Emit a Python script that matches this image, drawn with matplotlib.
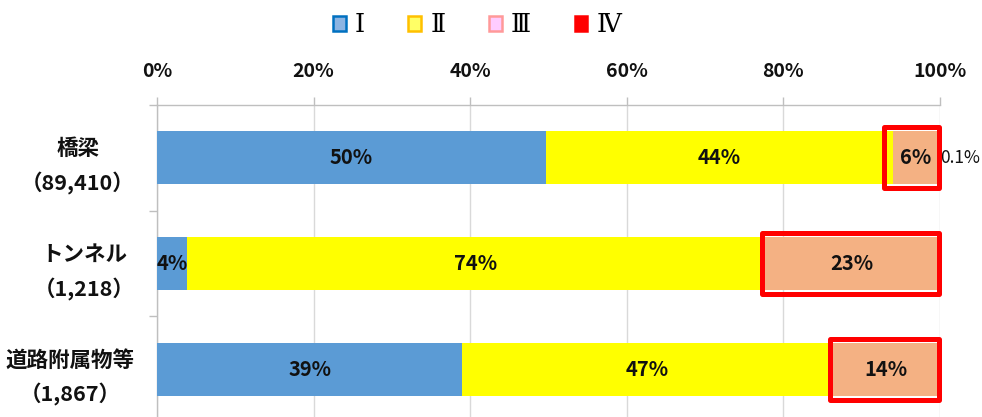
import matplotlib
matplotlib.use("Agg")
import matplotlib.pyplot as plt
from matplotlib.patches import Patch, Rectangle
import numpy as np

plt.rcParams['font.family'] = ['Noto Sans CJK JP', 'DejaVu Sans']

categories = ["橋梁\n（89,410）", "トンネル\n（1,218）", "道路附属物等\n（1,867）"]
series_names = ["Ⅰ", "Ⅱ", "Ⅲ", "Ⅳ"]
v1 = [49.7, 3.8, 39.0]
v2 = [44.3, 73.8, 47.2]
v3 = [5.9, 22.4, 13.8]
v4 = [0.1, 0.0, 0.0]
lab1 = ["50%", "4%", "39%"]
lab2 = ["44%", "74%", "47%"]
lab3 = ["6%", "23%", "14%"]
lab4 = ["0.1%", "", ""]
xticks = [0, 20, 40, 60, 80, 100]
xticklabels = ["0%", "20%", "40%", "60%", "80%", "100%"]

bar_colors = ["#5B9BD5", "#FFFF00", "#F4B183", "#FF0000"]
leg_face = ["#8DB4E2", "#FFFF66", "#FFCCFF", "#FF0000"]
leg_edge = ["#0070C0", "#FFC000", "#FF9999", "#FF0000"]

fig = plt.figure(figsize=(9.82, 4.17), dpi=100)
W, H = 982, 417
ax = fig.add_axes([157 / W, (417 - 422) / H, (940 - 157) / W, (422 - 105) / H])

y = np.arange(len(categories))
series = [v1, v2, v3, v4]
labels = [lab1, lab2, lab3, lab4]
left = np.zeros(len(categories))
starts = []
for vals, col, labs in zip(series, bar_colors, labels):
    vals = np.array(vals)
    starts.append(left.copy())
    ax.barh(y, vals, left=left, height=0.5, color=col, zorder=3)
    for i, (v, l) in enumerate(zip(vals, labs)):
        if not l:
            continue
        if v >= 2:
            ax.text(left[i] + v / 2, y[i], l, ha='center', va='center',
                    fontsize=14.5, fontweight='bold', color='#111111', zorder=5)
        else:
            ax.text(left[i] + v + 0.05, y[i], l, ha='left', va='center',
                    fontsize=12.5, color='#111111', zorder=5)
    left = left + vals

# red highlight boxes around III + IV
hl_pad = [1.2, 0.3, 0.3]
for i in range(len(categories)):
    x0 = starts[2][i] - hl_pad[i]
    r = Rectangle((x0, y[i] - 0.29), 100 - x0 - 0.1, 0.58, fill=False,
                  edgecolor='#FF0000', linewidth=3.6, joinstyle='round',
                  zorder=6, clip_on=False)
    ax.add_patch(r)

ax.set_xlim(0, 100)
ax.set_ylim(2.5, -0.5)
ax.xaxis.tick_top()
ax.set_xticks(xticks)
ax.set_xticklabels(xticklabels, fontsize=14, fontweight='bold', color='#111111')
ax.tick_params(axis='x', direction='out', length=6, width=1, color='#BFBFBF', pad=11)
ax.grid(axis='x', color='#D9D9D9', linewidth=1, zorder=0)

ax.set_yticks(y)
ax.set_yticklabels(categories, fontsize=15.5, fontweight='bold', color='#111111')
for t in ax.get_yticklabels():
    t.set_multialignment('center')
    t.set_linespacing(1.7)
ax.tick_params(axis='y', which='major', length=0, pad=16)
ax.set_yticks([-0.5, 0.5, 1.5, 2.5], minor=True)
ax.tick_params(axis='y', which='minor', length=6, width=1, color='#BFBFBF')

for s in ['right', 'bottom']:
    ax.spines[s].set_visible(False)
for s in ['top', 'left']:
    ax.spines[s].set_color('#BFBFBF')
    ax.spines[s].set_linewidth(1)

handles = [Patch(facecolor=f, edgecolor=e, linewidth=1.8, label=n)
           for f, e, n in zip(leg_face, leg_edge, series_names)]
leg = fig.legend(handles=handles, loc='center', bbox_to_anchor=(477 / W, 1 - 25 / H),
                 ncol=4, frameon=False, handlelength=0.5, handleheight=0.5,
                 handletextpad=0.35, columnspacing=1.7,
                 prop={'family': ['DejaVu Serif', 'Noto Sans CJK JP'], 'size': 18.5})

fig.savefig("out.png", dpi=100)
